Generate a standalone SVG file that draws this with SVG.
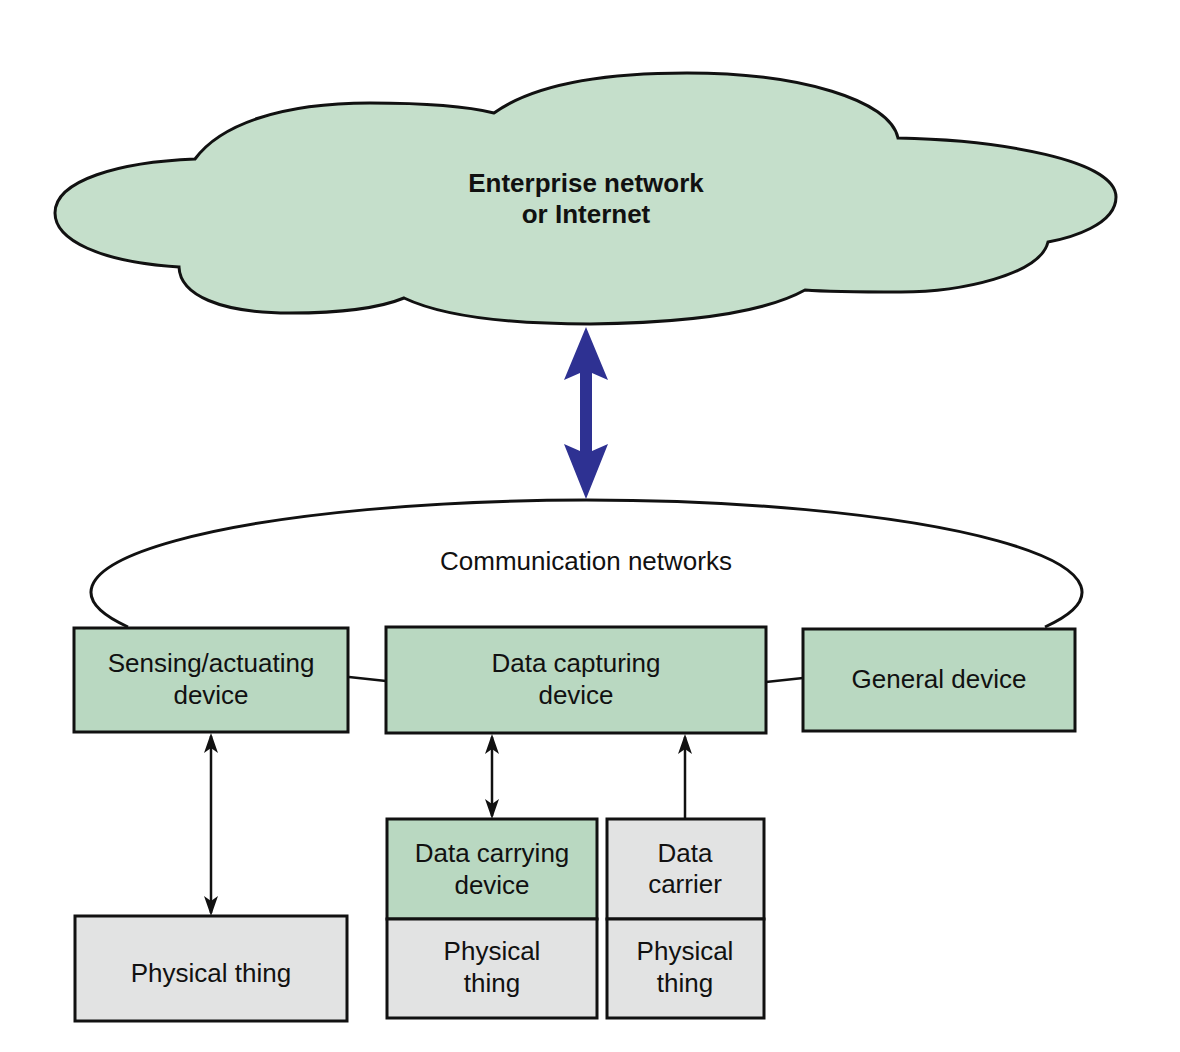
<svg xmlns="http://www.w3.org/2000/svg" width="1180" height="1052" viewBox="0 0 1180 1052">
<style>
text{font-family:"Liberation Sans",Arial,sans-serif;font-size:26px;fill:#111;text-anchor:middle}
.b{font-weight:bold}
.box{stroke:#111;stroke-width:3}
.g{fill:#b9d8c1}
.gr{fill:#e2e3e3}
.ln{stroke:#111;stroke-width:2.5;fill:none}
</style>
<defs>
<marker id="ah" viewBox="0 0 20 16" refX="17" refY="8" markerWidth="20" markerHeight="16" markerUnits="userSpaceOnUse" orient="auto-start-reverse">
<path d="M0,1 L20,8 L0,15 L5,8 Z" fill="#111"/>
</marker>
</defs>
<rect width="1180" height="1052" fill="#fff"/>
<g id="cloud">
<path d="M195,159 C220,125 280,103 370,103 C430,103 470,107 494,113 C540,80 620,73 687,73 C800,73 890,100 898,138 C1000,140 1116,160 1116,197 C1116,225 1070,238 1048,242 C1040,275 960,292 901,292 C860,292 830,292 805,290 C760,315 680,323 590,324 C500,324 440,315 404,298 C370,312 320,313 290,313 C220,313 180,295 179,267 C100,262 55,240 55,213 C55,180 120,162 195,159 Z" fill="#c5dfcb" stroke="#111" stroke-width="3"/>
<text class="b" x="586" y="192">Enterprise network</text>
<text class="b" x="586" y="223">or Internet</text>
</g>
<g id="comm">
<path d="M128,627 A495.5 92 0 1 1 1045,627" fill="none" stroke="#111" stroke-width="3"/>
<text x="586" y="570">Communication networks</text>
</g>
<g id="connectors">
<polygon points="586,327 608,380 592,373 592,451 608,444 586,499 564,444 580,451 580,373 564,380" fill="#2e3192"/>
<line class="ln" x1="349" y1="677" x2="386" y2="681"/>
<line class="ln" x1="766" y1="682" x2="803" y2="678"/>
<line class="ln" x1="211" y1="736" x2="211" y2="913" marker-start="url(#ah)" marker-end="url(#ah)"/>
<line class="ln" x1="492" y1="737" x2="492" y2="816" marker-start="url(#ah)" marker-end="url(#ah)"/>
<line class="ln" x1="685" y1="819" x2="685" y2="737" marker-end="url(#ah)"/>
</g>
<g id="sensing">
<rect class="box g" x="74" y="628" width="274" height="104"/>
<text x="211" y="672">Sensing/actuating</text>
<text x="211" y="704">device</text>
</g>
<g id="capturing">
<rect class="box g" x="386" y="627" width="380" height="106"/>
<text x="576" y="672">Data capturing</text>
<text x="576" y="704">device</text>
</g>
<g id="general">
<rect class="box g" x="803" y="629" width="272" height="102"/>
<text x="939" y="688">General device</text>
</g>
<g id="physical1">
<rect class="box gr" x="75" y="916" width="272" height="105"/>
<text x="211" y="982">Physical thing</text>
</g>
<g id="carrying">
<rect class="box g" x="387" y="819" width="210" height="100"/>
<text x="492" y="862">Data carrying</text>
<text x="492" y="894">device</text>
</g>
<g id="physical2">
<rect class="box gr" x="387" y="919" width="210" height="99"/>
<text x="492" y="960">Physical</text>
<text x="492" y="992">thing</text>
</g>
<g id="carrier">
<rect class="box gr" x="607" y="819" width="157" height="100"/>
<text x="685" y="862">Data</text>
<text x="685" y="893">carrier</text>
</g>
<g id="physical3">
<rect class="box gr" x="607" y="919" width="157" height="99"/>
<text x="685" y="960">Physical</text>
<text x="685" y="992">thing</text>
</g>
</svg>
